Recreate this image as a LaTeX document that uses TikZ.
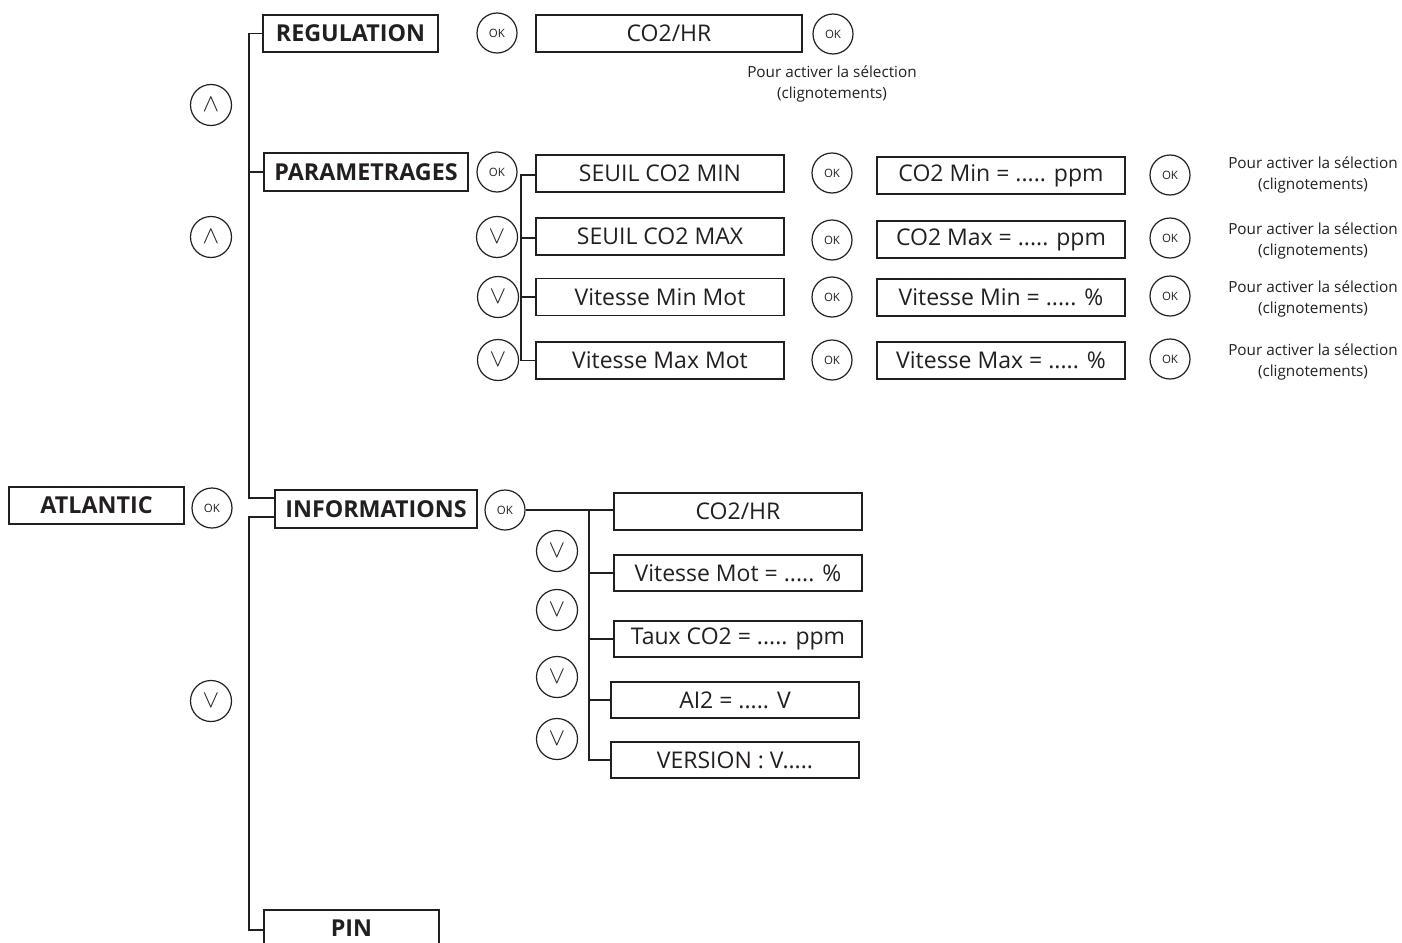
\documentclass[tikz,border=0pt]{standalone}
\usepackage{fontspec}
\setmainfont{Open Sans}
\begin{document}
\begin{tikzpicture}[x=1pt,y=-1pt,
  line width=1.4pt,
  every node/.style={text=ink},
  box/.style={draw=ink,line width=1.4pt,inner sep=0pt,minimum height=37pt},
  mbox/.style={box,font=\fontsize{23.3}{23.3}\selectfont\bfseries},
  sbox/.style={box,font=\fontsize{23}{23}\selectfont,minimum width=248pt},
  okc/.style={draw=ink,circle,line width=1.2pt,minimum size=40pt,inner sep=0pt,font=\fontsize{11.5}{11.5}\selectfont},
  arr/.style={draw=ink,circle,line width=1.2pt,minimum size=41pt,inner sep=0pt,font=\fontsize{27}{27}\selectfont},
  note/.style={align=center,font=\fontsize{15.3}{21}\selectfont,inner sep=0pt},
]
\definecolor{ink}{HTML}{231F20}
\useasboundingbox (0,0) rectangle (1402,942);
% left column
\node[mbox,minimum width=175pt] (atl) at (96.5,505.5) {ATLANTIC};
\node[okc] (okA) at (212,508) {OK};
\node[arr] (upA) at (211,105) {$\wedge$};
\node[arr] (upB) at (211,237) {$\wedge$};
\node[arr] (dnA) at (211,701) {$\vee$};
% main menu
\node[mbox,minimum width=175pt] (reg) at (350.5,33.5) {REGULATION};
\node[mbox,minimum width=204pt,minimum height=38pt] (par) at (366,172) {PARAMETRAGES};
\node[mbox,minimum width=202pt,minimum height=38pt] (inf) at (376,509) {INFORMATIONS};
\node[mbox,minimum width=175pt,minimum height=36pt] (pin) at (351.5,928) {PIN};
\coordinate (sp) at (249,0);
\draw[ink] (reg.west) -- (reg.west -| sp) -- ([yshift=11pt]inf.west -| sp) -- ([yshift=11pt]inf.west);
\draw[ink] (par.west) -- (par.west -| sp);
\draw[ink] ([yshift=-8pt]inf.west) -- ([yshift=-8pt]inf.west -| sp) -- ([yshift=-2pt]pin.west -| sp) -- ([yshift=-2pt]pin.west);
% regulation row
\node[okc] (okR1) at (497,33) {OK};
\node[sbox,minimum width=266pt] (rco) at (669,33.5) {CO2/HR};
\node[okc] (okR2) at (833,34) {OK};
\node[note] (nR) at (832,84) {Pour activer la sélection\\(clignotements)};
% parametrages
\node[okc] (okP) at (497,172) {OK};
\node[arr] (dP1) at (497,237) {$\vee$};
\node[arr] (dP2) at (498,297) {$\vee$};
\node[arr] (dP3) at (498,360) {$\vee$};
\node[sbox] (ps1) at (660,173.5) {SEUIL CO2 MIN};
\node[sbox] (ps2) at (660,236.5) {SEUIL CO2 MAX};
\node[sbox] (ps3) at (660,297) {Vitesse Min Mot};
\node[sbox] (ps4) at (660,360.5) {Vitesse Max Mot};
\coordinate (pv) at (521,0);
\draw[ink] ([yshift=-1.5pt]ps1.west) -- ([yshift=-1.5pt]ps1.west -| pv) -- (ps4.west -| pv) -- (ps4.west);
\draw[ink] ([yshift=-1.5pt]ps2.west) -- ([yshift=-1.5pt]ps2.west -| pv);
\draw[ink] (ps3.west) -- (ps3.west -| pv);
\node[okc] (okS1) at (832,173) {OK};
\node[okc] (okS2) at (832,240) {OK};
\node[okc] (okS3) at (832,297) {OK};
\node[okc] (okS4) at (832,360) {OK};
\node[sbox] (pv1) at (1001,175.5) {CO2 Min = ..... ppm};
\node[sbox] (pv2) at (1001,239.5) {CO2 Max = ..... ppm};
\node[sbox] (pv3) at (1001,297.5) {Vitesse Min = ..... \%};
\node[sbox] (pv4) at (1001,360.5) {Vitesse Max = ..... \%};
\node[okc] (okV1) at (1170,175) {OK};
\node[okc] (okV2) at (1170,238) {OK};
\node[okc] (okV3) at (1170,296) {OK};
\node[okc] (okV4) at (1170,359) {OK};
\node[note] (n1) at (1313,174.5) {Pour activer la sélection\\(clignotements)};
\node[note] (n2) at (1313,240.5) {Pour activer la sélection\\(clignotements)};
\node[note] (n3) at (1313,298.5) {Pour activer la sélection\\(clignotements)};
\node[note] (n4) at (1313,361.5) {Pour activer la sélection\\(clignotements)};
% informations
\node[okc] (okI) at (505,510) {OK};
\node[arr] (dI1) at (557,551) {$\vee$};
\node[arr] (dI2) at (557,610) {$\vee$};
\node[arr] (dI3) at (557,677) {$\vee$};
\node[arr] (dI4) at (557,739) {$\vee$};
\node[sbox] (is1) at (738,511.5) {CO2/HR};
\node[sbox,minimum height=36pt] (is2) at (738,573) {Vitesse Mot = ..... \%};
\node[sbox,minimum height=36pt] (is3) at (738,639) {Taux CO2 = ..... ppm};
\node[sbox,minimum height=36pt] (is4) at (735,700) {AI2 = ..... V};
\node[sbox,minimum height=36pt] (is5) at (735,760) {VERSION : V.....};
\coordinate (iv) at (589,0);
\draw[ink] (okI.east) -- (okI.east -| iv) -- (is5.west -| iv) -- (is5.west);
\draw[ink] (okI.east -| iv) -- (okI.east -| is1.west);
\draw[ink] (is2.west) -- (is2.west -| iv);
\draw[ink] (is3.west) -- (is3.west -| iv);
\draw[ink] (is4.west) -- (is4.west -| iv);
\end{tikzpicture}
\end{document}
